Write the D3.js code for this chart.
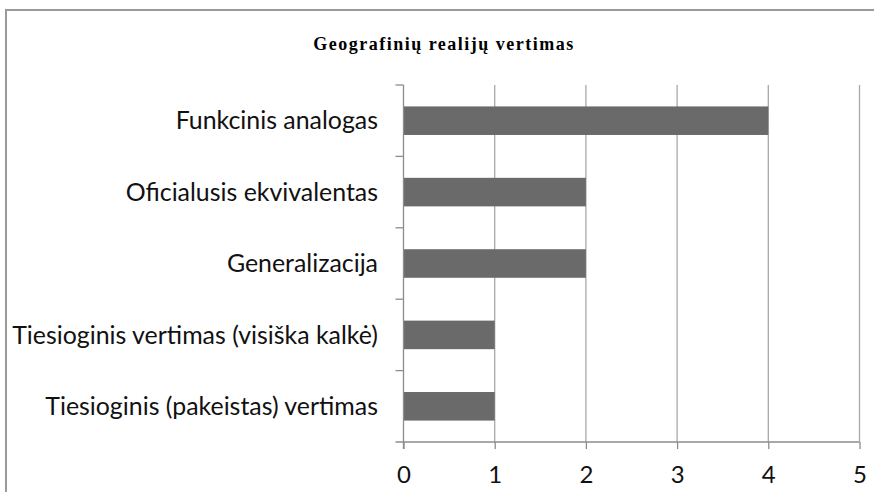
<!DOCTYPE html>
<html>
<head>
<meta charset="utf-8">
<script src="https://cdn.jsdelivr.net/npm/d3@7"></script>
<style>
  body { margin: 0; background: #fff; }
  svg { display: block; }
</style>
</head>
<body>
<script>
// chart data
const title = "Geografinių realijų vertimas";
const categories = [
  "Funkcinis analogas",
  "Oficialusis ekvivalentas",
  "Generalizacija",
  "Tiesioginis vertimas (visiška kalkė)",
  "Tiesioginis (pakeistas) vertimas"
];
const values = [4, 2, 2, 1, 1];
const xTicks = [0, 1, 2, 3, 4, 5];

const width = 874, height = 492;
const plotLeft = 403.5, plotRight = 859.5, plotTop = 85, plotBottom = 442;

let svg = d3.select("body")
    .append("svg")
    .attr("width", width)
    .attr("height", height);

// outer border (only top and left visible)
svg.append("path")
    .attr("d", "M6,492 V10 H874")
    .attr("fill", "none")
    .attr("stroke", "#9a9a9a")
    .attr("stroke-width", 2);

svg.append("text")
    .attr("x", 444)
    .attr("y", 50)
    .attr("text-anchor", "middle")
    .style("font-family", "Liberation Serif, serif")
    .style("font-weight", "bold")
    .style("font-size", "18px")
    .style("letter-spacing", "1.5px")
    .attr("fill", "#000")
    .text(title);

let x = d3.scaleLinear()
    .domain([0, 5])
    .range([plotLeft, plotRight]);

let y = d3.scaleBand()
    .domain(categories)
    .range([plotTop, plotBottom])
    .paddingInner(0.6)
    .paddingOuter(0.3);

let step = y.step();

// vertical gridlines
svg.selectAll(".grid")
    .data(xTicks.filter(d => d > 0))
    .enter().append("line")
    .attr("class", "grid")
    .attr("x1", d => x(d))
    .attr("x2", d => x(d))
    .attr("y1", plotTop)
    .attr("y2", plotBottom)
    .attr("stroke", "#a8a8a8")
    .attr("stroke-width", 1.3);

// bars
svg.selectAll(".bar")
    .data(values)
    .enter().append("rect")
    .attr("class", "bar")
    .attr("x", x(0))
    .attr("y", (d, i) => y(categories[i]))
    .attr("width", d => x(d) - x(0))
    .attr("height", y.bandwidth())
    .attr("fill", "#6a6a6a");

// x axis
let xAxis = svg.append("g")
    .attr("transform", "translate(0," + plotBottom + ")")
    .call(d3.axisBottom(x).tickValues(xTicks).tickFormat(d3.format("d"))
        .tickSize(7).tickPadding(17).tickSizeOuter(0));

xAxis.select(".domain")
    .attr("d", "M" + (plotLeft - 8) + ",0H" + plotRight)
    .attr("stroke", "#8c8c8c")
    .attr("stroke-width", 1.3);
xAxis.selectAll(".tick line")
    .attr("stroke", "#8c8c8c")
    .attr("stroke-width", 1.3);
xAxis.selectAll(".tick text")
    .style("font-family", "Lato, sans-serif")
    .style("font-size", "24px")
    .attr("fill", "#111");

// y axis line and ticks between categories
svg.append("line")
    .attr("x1", plotLeft).attr("x2", plotLeft)
    .attr("y1", plotTop).attr("y2", plotBottom + 7)
    .attr("stroke", "#8c8c8c")
    .attr("stroke-width", 1.3);

svg.selectAll(".ytick")
    .data(d3.range(categories.length))
    .enter().append("line")
    .attr("class", "ytick")
    .attr("x1", plotLeft - 8)
    .attr("x2", plotLeft)
    .attr("y1", i => plotTop + i * step)
    .attr("y2", i => plotTop + i * step)
    .attr("stroke", "#8c8c8c")
    .attr("stroke-width", 1.3);

// category labels
svg.selectAll(".ylabel")
    .data(categories)
    .enter().append("text")
    .attr("class", "ylabel")
    .attr("x", 378)
    .attr("y", d => y(d) + y.bandwidth() / 2)
    .attr("dy", ".35em")
    .attr("text-anchor", "end")
    .style("font-family", "Lato, sans-serif")
    .style("font-size", "24.9px")
    .attr("fill", "#111")
    .text(d => d);
</script>
</body>
</html>
